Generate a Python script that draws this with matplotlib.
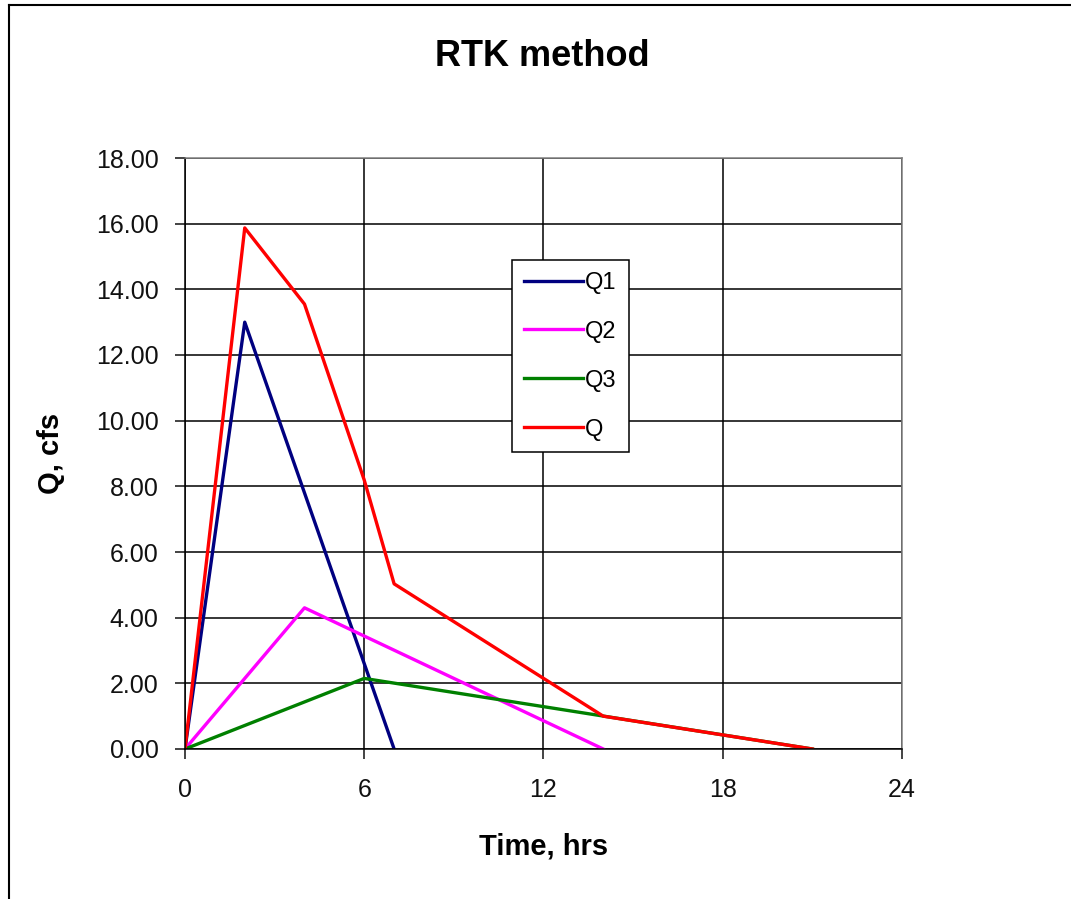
import numpy as np
import matplotlib.pyplot as plt
from matplotlib.lines import Line2D

# hydrograph components (time in hrs, Q in cfs)
t1 = [0, 2, 7]
q1 = [0.0, 13.0, 0.0]
t2 = [0, 4, 14]
q2 = [0.0, 4.3, 0.0]
t3 = [0, 6, 21]
q3 = [0.0, 2.15, 0.0]
t = [0, 2, 4, 6, 7, 14, 21]
q = [0.0, 15.87, 13.55, 8.19, 5.03, 1.0, 0.0]

xticks = [0, 6, 12, 18, 24]
yticks = np.arange(0, 18.01, 2)

plt.rcParams['font.family'] = ['Liberation Sans', 'DejaVu Sans']

fig = plt.figure(figsize=(10.71, 8.99), dpi=100)
ax = fig.add_axes([185/1071, 1 - 749/899, (902-185)/1071, (749-158)/899])

lw = 2.4
ax.plot(t1, q1, color='#000080', lw=lw, label='Q1')
ax.plot(t2, q2, color='#FF00FF', lw=lw, label='Q2')
ax.plot(t3, q3, color='#008000', lw=lw, label='Q3')
ax.plot(t, q, color='#FF0000', lw=lw, label='Q')

ax.set_xlim(0, 24)
ax.set_ylim(0, 18)
ax.set_xticks(xticks)
ax.set_yticks(yticks)
ax.set_yticklabels([f"{v:.2f}" for v in yticks])
ax.grid(True, color='black', lw=1.1)
ax.set_axisbelow(True)
for s in ['top', 'right']:
    ax.spines[s].set_color('#808080')
    ax.spines[s].set_linewidth(1.1)
for s in ['left', 'bottom']:
    ax.spines[s].set_linewidth(1.1)
ax.tick_params(direction='out', length=7, width=1.1, labelsize=18, colors='#111111', pad=14)
ax.tick_params(axis='y', pad=12)

ax.set_xlabel('Time, hrs', fontsize=21, fontweight='bold', labelpad=22)
ax.set_ylabel('Q, cfs', fontsize=21, fontweight='bold', labelpad=22)
fig.text(542/1071, 1 - 57/899, 'RTK method', fontsize=26, fontweight='bold',
         ha='center', va='center')

leg = ax.legend(loc='upper left', bbox_to_anchor=((512-185)/717, (749-260)/591),
                fontsize=17, frameon=True, fancybox=False, borderpad=0.5,
                handlelength=2.5, handletextpad=0.1, labelspacing=1.14,
                borderaxespad=0)
leg.get_frame().set_edgecolor('black')
leg.get_frame().set_linewidth(1.1)
leg.get_frame().set_alpha(1)

# outer chart border (only top and left visible in the crop)
fig.add_artist(Line2D([9/1071, 9/1071], [0, 1 - 5/899], color='black', lw=1.5))
fig.add_artist(Line2D([9/1071, 1], [1 - 5/899, 1 - 5/899], color='black', lw=1.5))

fig.savefig('out.png', dpi=100)
